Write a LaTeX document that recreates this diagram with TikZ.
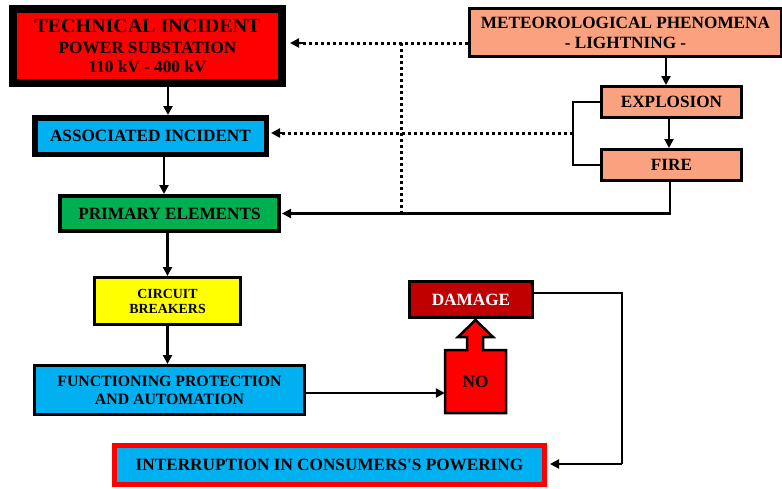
\documentclass[tikz,border=0pt]{standalone}
\usepackage{fontspec}
\setmainfont{Liberation Serif}
\usetikzlibrary{arrows.meta,calc}
\definecolor{cred}{RGB}{255,0,0}
\definecolor{cblue}{RGB}{0,176,240}
\definecolor{cgreen}{RGB}{0,176,80}
\definecolor{cyel}{RGB}{255,255,0}
\definecolor{csalmon}{RGB}{250,162,128}
\definecolor{cdark}{RGB}{192,0,0}
\begin{document}
\begin{tikzpicture}[x=1pt,y=-1pt,
  box/.style={draw=black,rectangle,inner sep=0pt,align=center,font=\bfseries\fontsize{17.2}{20}\selectfont},
  arr/.style={line width=2.4pt,-{Triangle[length=9pt,width=9pt]}},
  link/.style={line width=2.4pt},
  dots/.style={line width=3pt,dash pattern=on 3pt off 3pt}]
\useasboundingbox (0,0) rectangle (782,488);
% nodes
\node[box,line width=8pt,fill=cred,minimum width=269pt,minimum height=74pt] (tech) at (147.5,46)
  {{\fontsize{20}{22}\selectfont TECHNICAL INCIDENT}\\[1pt]POWER SUBSTATION\\[-1pt]110 kV - 400 kV};
\node[box,line width=5.5pt,fill=cblue,minimum width=231.5pt,minimum height=36.5pt] (assoc) at (150.5,136) {ASSOCIATED INCIDENT};
\node[box,line width=4pt,fill=cgreen,minimum width=219pt,minimum height=35pt] (prim) at (169.5,213.5) {PRIMARY ELEMENTS};
\node[box,line width=3pt,fill=csalmon,minimum width=312pt,minimum height=48pt] (meteo) at (625.5,32.5) {METEOROLOGICAL PHENOMENA\\- LIGHTNING -};
\node[box,line width=3pt,fill=csalmon,minimum width=140pt,minimum height=31pt] (expl) at (671.5,102) {EXPLOSION};
\node[box,line width=3pt,fill=csalmon,minimum width=140pt,minimum height=31pt] (fire) at (671.5,165) {FIRE};
\node[box,line width=3pt,fill=cyel,minimum width=146pt,minimum height=47pt,font=\bfseries\fontsize{13.9}{15}\selectfont] (cb) at (167.5,301) {CIRCUIT\\BREAKERS};
\node[box,line width=3pt,fill=cblue,minimum width=270pt,minimum height=49pt,font=\bfseries\fontsize{15.8}{18}\selectfont] (func) at (169.5,390) {FUNCTIONING PROTECTION\\AND AUTOMATION};
\node[box,line width=3pt,fill=cdark,text=white,minimum width=123pt,minimum height=36pt] (dmg) at (471,299.5) {DAMAGE};
% NO box with up arrow
\filldraw[fill=cred,draw=black,line width=2.5pt,line join=miter]
  (445,413) -- (445,350) -- (467,350) -- (467,337) -- (458,337) -- (475.5,320) -- (493,337) -- (483,337) -- (483,350) -- (506,350) -- (506,413) -- cycle;
\node[box,draw=none,minimum width=61pt,minimum height=63pt] (no) at (475.5,381.5) {NO};
\node[box,draw=cred,line width=5pt,fill=cblue,minimum width=430pt,minimum height=39pt] (intr) at (329.5,465) {INTERRUPTION IN CONSUMERS{\addfontfeature{Ligatures=TeXOff}'}S POWERING};
% coordinates
\coordinate (mt) at ([yshift=-10.5pt]meteo.west);
\coordinate (dv) at (401,43);
\coordinate (br) at (573,133);
\coordinate (dc) at (622,464);
% connectors
\draw[arr] ([xshift=20.5pt]tech.south) -- ([xshift=20.5pt]tech.south |- assoc.north);
\draw[arr] ([xshift=13.5pt]assoc.south) -- ([xshift=13.5pt]assoc.south |- prim.north);
\draw[arr] (cb.north |- prim.south) -- (cb.north);
\draw[arr] (cb.south) -- (cb.south |- func.north);
\draw[arr] ([xshift=-5.5pt]expl.north |- meteo.south) -- ([xshift=-5.5pt]expl.north);
\draw[arr] ([xshift=-2.5pt]expl.south) -- ([xshift=-2.5pt]fire.north);
\draw[link] (expl.west) -| (br) |- (fire.west);
\draw[dots] (br) -- ([xshift=12pt]br -| assoc.east);
\draw[arr,shorten >=2pt] ([xshift=15pt]br -| assoc.east) -- (br -| assoc.east);
\draw[dots] (mt) -- ([xshift=14pt]mt -| tech.east);
\draw[arr,shorten >=4pt] ([xshift=17pt]mt -| tech.east) -- (mt -| tech.east);
\draw[dots] (dv) -- (dv |- prim.east);
\draw[arr,shorten >=1pt] ([xshift=-1.5pt]fire.south) |- (prim.east);
\draw[arr] ([yshift=-3pt]func.east) -- ([yshift=-3pt]func.east -| no.west);
\draw[link] ([yshift=6.5pt]dmg.east) -| (dc);
\draw[arr,shorten >=3pt] (dc) -- (dc -| intr.east);
\end{tikzpicture}
\end{document}
